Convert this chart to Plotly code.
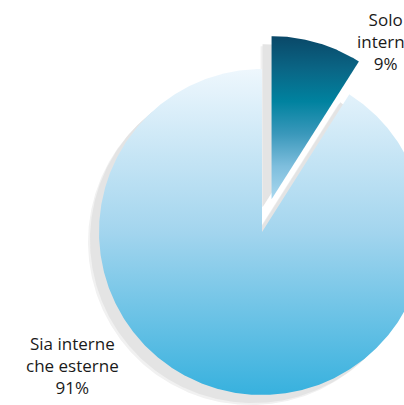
import numpy as np
import plotly.graph_objects as go

# Share of answers per category
labels = ["Solo<br>interne", "Sia interne<br>che esterne"]
values = [9, 91]
pulls = [0.21, 0.0]

# Vertical gradient colour stops for each slice (bottom -> top)
gradients = [
    [[0.0, "#a9d8ef"], [0.2, "#7ebedd"], [0.4, "#3a98bb"],
     [0.6, "#00829f"], [0.8, "#0a6585"], [1.0, "#0a4868"]],
    [[0.0, "#37b1de"], [0.5, "#a3d5ee"], [1.0, "#eef7fd"]],
]

W, H = 404, 405
cx, cy, R = 262, 173, 163
shadow_dx, shadow_dy = -9, -8
label_pos = [(385, 364), (72, 40)]


def wedge(a0, a1, ox, oy):
    n = max(int(abs(a1 - a0) * 2) + 2, 8)
    t = np.radians(np.linspace(a0, a1, n))
    xs = np.concatenate([[ox], ox + R * np.sin(t), [ox]])
    ys = np.concatenate([[oy], oy + R * np.cos(t), [oy]])
    return xs, ys


total = float(sum(values))
slices = []
start = 0.0
for v, p in zip(values, pulls):
    span = 360.0 * v / total
    mid = np.radians(start + span / 2)
    ox = cx + p * R * np.sin(mid)
    oy = cy + p * R * np.cos(mid)
    slices.append((start, start + span, ox, oy))
    start += span

fig = go.Figure()

# soft drop shadow under every slice
for a0, a1, ox, oy in slices:
    for (dx, dy, col) in [(shadow_dx - 2, shadow_dy - 2, "#f1f1f1"),
                          (shadow_dx, shadow_dy, "#e4e4e4")]:
        xs, ys = wedge(a0, a1, ox + dx, oy + dy)
        fig.add_trace(go.Scatter(x=xs, y=ys, mode="lines", fill="toself",
                                 fillcolor=col, line=dict(width=0),
                                 hoverinfo="skip", showlegend=False))

# slices with vertical gradient fill
for (a0, a1, ox, oy), name, v, cs in zip(slices, labels, values, gradients):
    xs, ys = wedge(a0, a1, ox, oy)
    fig.add_trace(go.Scatter(
        x=xs, y=ys, mode="lines", fill="toself", line=dict(width=0),
        fillgradient=dict(type="vertical", colorscale=cs,
                          start=float(ys.min()), stop=float(ys.max())),
        name=name.replace("<br>", " "), text=f"{v}%", hoverinfo="name+text",
        showlegend=False))

for name, v, (lx, ly) in zip(labels, values, label_pos):
    fig.add_annotation(x=lx, y=ly, xref="x", yref="y", text=f"{name}<br>{v}%",
                       showarrow=False, xanchor="center", yanchor="middle",
                       align="center",
                       font=dict(family="Open Sans", size=17, color="#1a1a1a"))

fig.update_layout(
    width=W, height=H, margin=dict(l=0, r=0, t=0, b=0),
    paper_bgcolor="white", plot_bgcolor="white",
    xaxis=dict(range=[0, W], visible=False, fixedrange=True),
    yaxis=dict(range=[0, H], visible=False, fixedrange=True),
)

fig.write_html("out.html")
